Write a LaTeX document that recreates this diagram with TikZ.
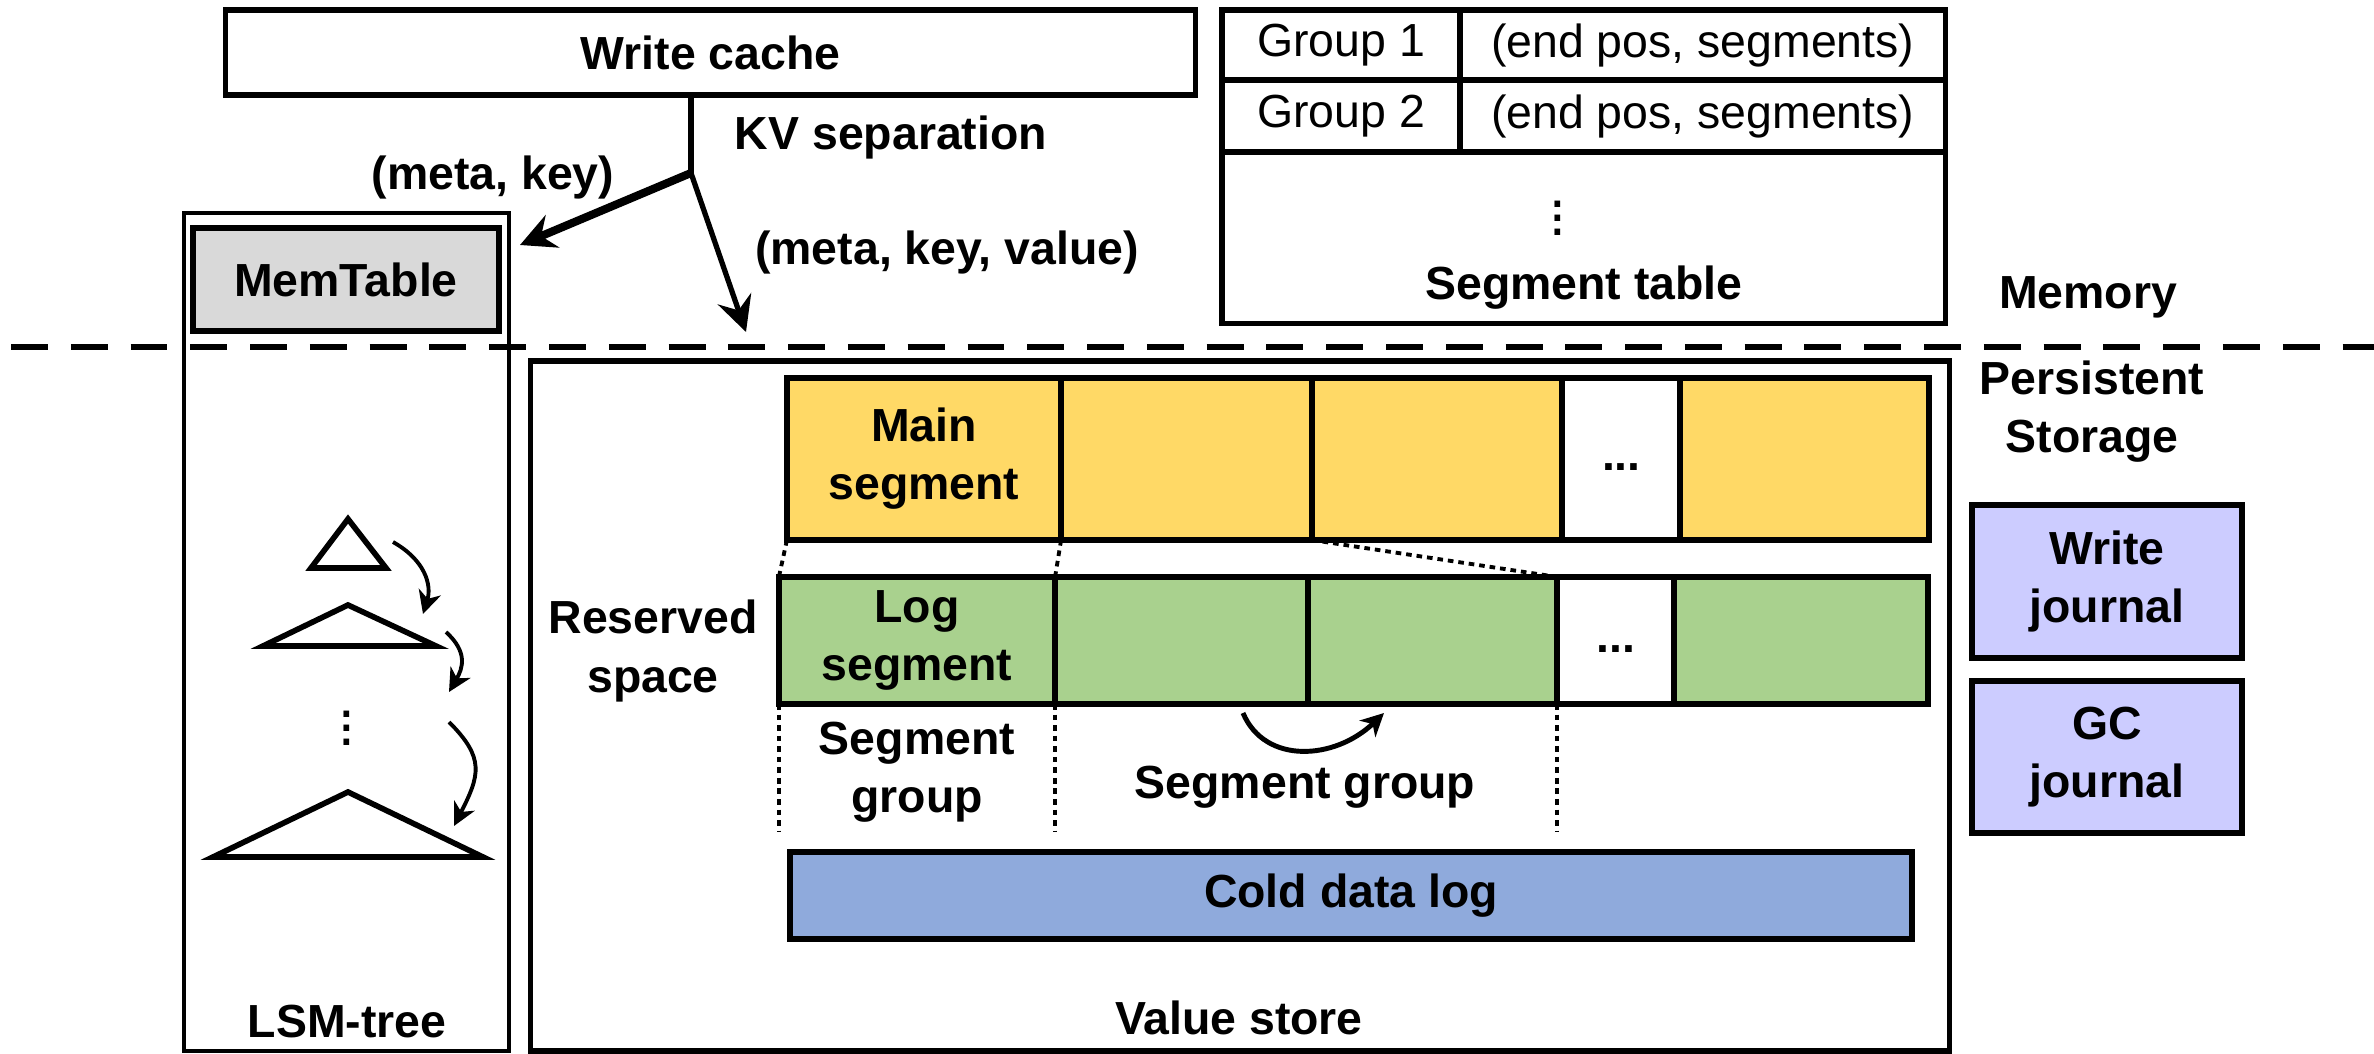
\documentclass[tikz,border=0pt]{standalone}
\usepackage{fontspec}
\setmainfont{Liberation Sans}
\usetikzlibrary{positioning,arrows.meta}
\definecolor{segyellow}{HTML}{FFD966}
\definecolor{seggreen}{HTML}{A9D18E}
\definecolor{coldblue}{HTML}{8FAADC}
\definecolor{jrnl}{HTML}{CCCCFF}
\definecolor{memgray}{HTML}{D9D9D9}
\begin{document}
\begin{tikzpicture}[x=0.01cm,y=-0.01cm,
	every node/.style={font=\bfseries\fontsize{13.2}{16.5}\selectfont,align=center,inner sep=0pt,outer sep=0pt},
	plain/.style={font=\fontsize{13.2}{16.5}\selectfont},
	box/.style={draw,line width=1.5pt},
	yseg/.style={box,line width=1.7pt,fill=segyellow,minimum height=1.62cm},
	gseg/.style={box,line width=1.7pt,fill=seggreen,minimum height=1.27cm},
	trow/.style={box,plain,minimum height=#1},
	flow/.style={line width=1.5pt,-{Stealth[length=10pt,width=10pt,inset=3.5pt]}},
	curvearrow/.style={line width=1.1pt,-{Stealth[length=6.5pt,width=6.5pt,inset=2pt]}},
	tri/.style={line width=1.6pt},
	vdot/.style={font=\fontsize{17}{17}\selectfont},
	gapline/.style={line width=1.1pt,dash pattern=on 1.6pt off 1.4pt},
	sepline/.style={line width=1.5pt,dash pattern=on 10.5pt off 6.5pt}]
\useasboundingbox (0,0) rectangle (2374,1054);

\node[box,minimum width=9.69cm,minimum height=0.85cm] (wc) at (710.5,52.5) {Write cache};
\coordinate (split) at (691,173);
\coordinate (memin) at (520,245);
\coordinate (vsin) at (746,332);
\draw[line width=1.5pt] (wc.south -| split) -- (split);
\draw[flow,line width=2.3pt] (split) -- (memin);
\draw[flow] (split) -- (vsin);
\node at (891,137) {KV separation};
\node at (493,177) {(meta, key)};
\node at (947,252) {(meta, key, value)};

\node[trow=0.70cm,minimum width=2.38cm] (g1) at (1341,45) {Group 1};
\node[trow=0.70cm,minimum width=4.85cm,right=0pt of g1] (e1) {(end pos, segments)};
\node[trow=0.72cm,minimum width=2.38cm,below=0pt of g1] (g2) {Group 2};
\node[trow=0.72cm,minimum width=4.85cm,right=0pt of g2] (e2) {(end pos, segments)};
\node[box,minimum width=7.23cm,minimum height=1.71cm,anchor=north west] (st) at (g2.south west) {};
\node[vdot] at (1558,208) {$\vdots$};
\node at (1584,288) {Segment table};

\draw[sepline] (11,347) -- (2374,347);
\node at (2088,297) {Memory};
\node at (2092,412) {Persistent\\Storage};

\node[box,line width=1.1pt,minimum width=3.25cm,minimum height=8.38cm] (lsm) at (346.5,632) {};
\node[box,line width=1.9pt,fill=memgray,minimum width=3.06cm,minimum height=1.03cm] (mem) at (346,279.5) {MemTable};
\draw[tri] (348,519) -- (386,568) -- (311,568) -- cycle;
\draw[tri] (348,605) -- (436,646) -- (263,646) -- cycle;
\node[vdot] at (347,718) {$\vdots$};
\draw[tri] (348,792) -- (483,857) -- (213,857) -- cycle;
\draw[curvearrow] (393,542) .. controls (425,560) and (432,585) .. (423,614);
\draw[curvearrow] (446,632) .. controls (468,652) and (463,668) .. (449,692);
\draw[curvearrow] (449,722) .. controls (485,758) and (480,775) .. (454,826);
\node at (347,1022) {LSM-tree};

\node[box,line width=1.6pt,minimum width=14.18cm,minimum height=6.90cm] (vs) at (1240,706) {};
\node[yseg,minimum width=2.74cm] (ms1) at (924,459) {Main\\segment};
\node[yseg,minimum width=2.51cm,right=0pt of ms1] (ms2) {};
\node[yseg,minimum width=2.50cm,right=0pt of ms2] (ms3) {};
\node[yseg,fill=white,minimum width=1.18cm,right=0pt of ms3] (ms4) {\strut...};
\node[yseg,minimum width=2.48cm,right=0pt of ms4] (ms5) {};
\node[gseg,minimum width=2.76cm] (ls1) at (917,640.5) {Log\\segment};
\node[gseg,minimum width=2.53cm,right=0pt of ls1] (ls2) {};
\node[gseg,minimum width=2.49cm,right=0pt of ls2] (ls3) {};
\node[gseg,fill=white,minimum width=1.17cm,right=0pt of ls3] (ls4) {\strut...};
\node[gseg,minimum width=2.53cm,right=0pt of ls4] (ls5) {};
\draw[gapline] (ms1.south west) -- (ls1.north west);
\draw[gapline] (ms1.south east) -- (ls1.north east);
\draw[gapline] (ms3.south west) -- (ls3.north east);
\draw[gapline] (ls1.south west) -- ++(0,128);
\draw[gapline] (ls1.south east) -- ++(0,128);
\draw[gapline] (ls3.south east) -- ++(0,128);
\node at (653,651) {Reserved\\space};
\node at (917,772) {Segment\\group};
\node at (1305,787) {Segment group};
\coordinate (mv1) at (1243,713);
\coordinate (mv2) at (1384,713);
\draw[curvearrow,line width=1.4pt] (mv1) .. controls (1265,765) and (1335,760) .. (mv2);
\node[box,line width=1.7pt,fill=coldblue,minimum width=11.22cm,minimum height=0.87cm] (cold) at (1351,895.5) {Cold data log};
\node at (1239,1018) {Value store};

\node[box,line width=1.7pt,fill=jrnl,minimum width=2.70cm,minimum height=1.53cm] (wj) at (2107,581.5) {Write\\journal};
\node[box,line width=1.7pt,fill=jrnl,minimum width=2.70cm,minimum height=1.52cm,below=0.23cm of wj] (gj) {GC\\journal};
\end{tikzpicture}
\end{document}
